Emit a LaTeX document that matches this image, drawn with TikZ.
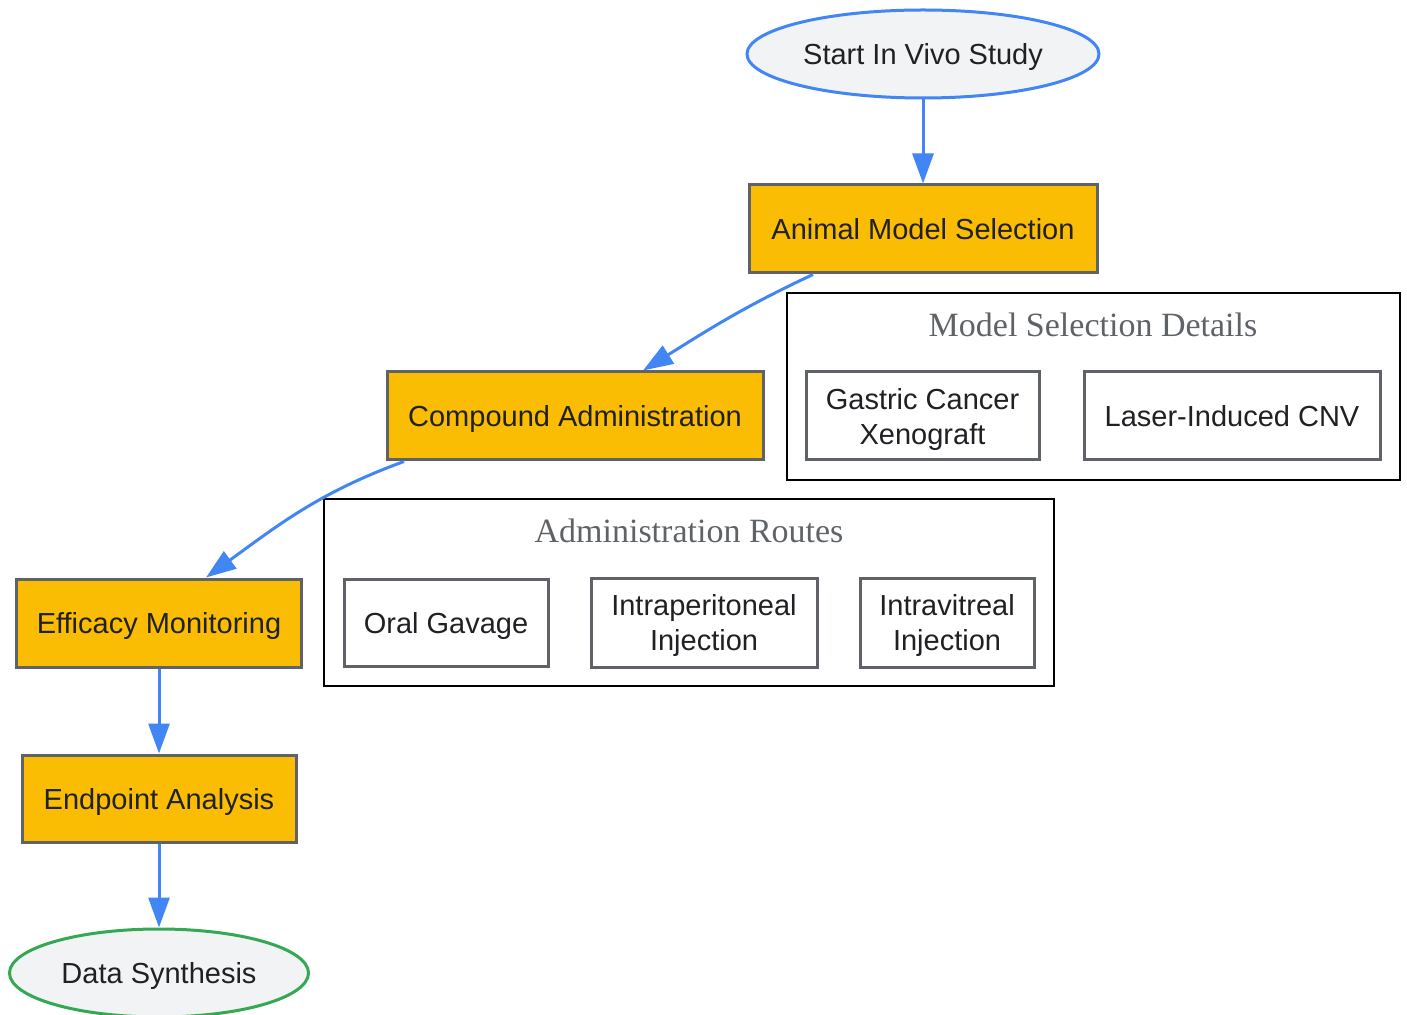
\documentclass[tikz,border=0pt]{standalone}
\usepackage{fontspec}
\setmainfont{Liberation Sans}
\newfontfamily\clusterfont{Liberation Serif}
\usepackage{tikz}
\usetikzlibrary{arrows.meta,shapes.geometric}

\definecolor{gblue}{HTML}{4285F4}
\definecolor{gyellow}{HTML}{FBBC04}
\definecolor{ggray}{HTML}{5F6368}
\definecolor{ggreen}{HTML}{34A853}
\definecolor{glight}{HTML}{F1F3F4}
\definecolor{gtext}{HTML}{202124}

\begin{document}
\begin{tikzpicture}[x=0.5pt, y=-0.5pt,
  every node/.style={font=\fontsize{14.5}{17.5}\selectfont, text=gtext, align=center, inner sep=0pt, text depth=0pt},
  terminal/.style={ellipse, draw, line width=1.5pt, fill=glight, minimum height=44pt},
  stage/.style={rectangle, draw=ggray, line width=1.5pt, fill=gyellow, minimum height=44pt},
  detail/.style={rectangle, draw=ggray, line width=1.5pt, fill=white, minimum height=44pt},
  cluster/.style={draw=black, line width=1pt},
  clustertitle/.style={font=\clusterfont\fontsize{17}{20}\selectfont, text=ggray},
  flow/.style={draw=gblue, line width=1.5pt, -{Triangle[length=15pt, width=10.5pt]}}]

\useasboundingbox (0,0) rectangle (1407,1015);

\draw[cluster] (787,293) rectangle (1400,480);
\draw[cluster] (324,499) rectangle (1054,686);
\node[clustertitle] (msdtitle) at (1093,325) {Model Selection Details};
\node[clustertitle] (admtitle) at (689,531) {Administration Routes};

\node[terminal, draw=gblue, minimum width=176pt] (start) at (923,54) {Start In Vivo Study};
\node[stage, minimum width=174pt] (animal) at (923,229) {Animal Model Selection};
\node[stage, minimum width=188pt] (compound) at (575,416) {Compound Administration};
\node[stage, minimum width=142.5pt] (efficacy) at (159,623) {Efficacy Monitoring};
\node[stage, minimum width=137pt, minimum height=43.5pt] (endpoint) at (159,798.5) {Endpoint Analysis};
\node[terminal, draw=ggreen, minimum width=149.5pt] (synthesis) at (159,973) {Data Synthesis};

\node[detail, minimum width=116.5pt] (gastric) at (922.5,416) {Gastric Cancer\\Xenograft};
\node[detail, minimum width=148pt] (laser) at (1232,416) {Laser-Induced CNV};
\node[detail, minimum width=102pt, minimum height=43.5pt] (oral) at (446,622.5) {Oral Gavage};
\node[detail, minimum width=113pt, minimum height=44.5pt] (ip) at (704,622.5) {Intraperitoneal\\Injection};
\node[detail, minimum width=87pt, minimum height=44.5pt] (ivt) at (947,622.5) {Intravitreal\\Injection};

\draw[flow] (start) -- (animal);
\draw[flow] ([xshift=-55pt]animal.south) to[out=205, in=32] ([xshift=34pt]compound.north);
\draw[flow] ([xshift=-85.5pt]compound.south) to[out=200, in=36] ([xshift=23.5pt]efficacy.north);
\draw[flow] (efficacy) -- (endpoint);
\draw[flow] (endpoint) -- (synthesis);
\end{tikzpicture}
\end{document}
